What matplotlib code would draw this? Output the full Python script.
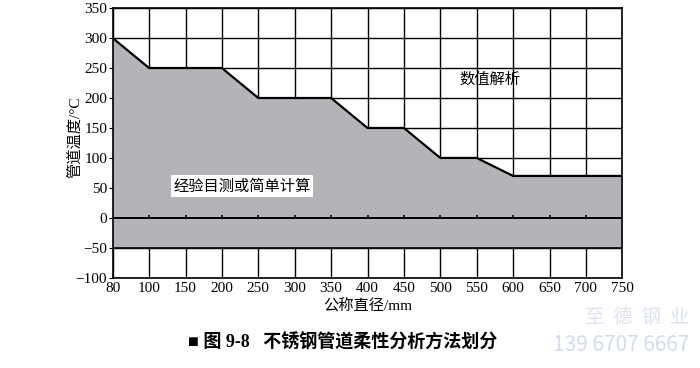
import numpy as np
import matplotlib.pyplot as plt

plt.rcParams['font.family'] = ['Liberation Serif', 'Noto Sans CJK SC']

# nominal diameter (categorical, equally spaced) and the boundary temperature
dn_labels = ['80', '100', '150', '200', '250', '300', '350', '400',
             '450', '500', '550', '600', '650', '700', '750']
t_limit = [300, 250, 250, 250, 200, 200, 200, 150,
           150, 100, 100, 70, 70, 70, 70]
t_low = -50
y_ticks = [-100, -50, 0, 50, 100, 150, 200, 250, 300, 350]

x = np.arange(len(dn_labels))

fig = plt.figure(figsize=(7, 3.68), dpi=100)
ax = fig.add_axes([0.161, 0.245, 0.728, 0.733])

# grid first, fill covers it
for xi in x:
    ax.axvline(xi, color='black', lw=1.0, zorder=1)
for yt in y_ticks:
    ax.axhline(yt, color='black', lw=1.0, zorder=1)

ax.fill_between(x, t_low, t_limit, color='#b2b4b7', zorder=2, lw=0)
ax.plot(x, t_limit, color='black', lw=1.6, zorder=3)
ax.axhline(t_low, color='black', lw=1.2, zorder=3)
ax.axhline(0, color='black', lw=1.4, zorder=3)
# little ticks standing on the zero line
ax.vlines(x[1:-1], 0, 5, color='black', lw=1.2, zorder=3)

ax.set_xlim(0, len(dn_labels) - 1)
ax.set_ylim(-100, 350)
ax.set_xticks(x)
ax.set_xticklabels(dn_labels)
ax.set_yticks(y_ticks)
ax.set_yticklabels([str(v).replace('-', '\u2212') for v in y_ticks])
ax.tick_params(axis='x', length=0, pad=3, labelsize=11)
ax.tick_params(axis='y', length=3, pad=1, labelsize=11, direction='out')
for s in ax.spines.values():
    s.set_linewidth(1.2)
    s.set_zorder(4)

ax.set_xlabel('公称直径/mm', fontsize=11, labelpad=2)
ax.set_ylabel('管道温度/°C', fontsize=11, labelpad=0)
ax.yaxis.set_label_coords(-0.06, 0.52)

ax.text(10.35, 232, '数值解析', fontsize=11, ha='center', va='center',
        family='Noto Sans CJK SC', zorder=5)
ax.text(3.55, 53, '经验目测或简单计算', fontsize=11, ha='center', va='center',
        family='Noto Sans CJK SC', zorder=5,
        bbox=dict(facecolor='white', edgecolor='none', pad=1.5))

fig.text(0.49, 0.068, '■ 图 9-8   不锈钢管道柔性分析方法划分', fontsize=13,
         ha='center', va='center', fontweight='bold')
fig.text(0.985, 0.138, '至  德  钢  业', fontsize=14, ha='right', va='center',
         color='#dde3ee', family='Noto Sans CJK SC')
fig.text(0.985, 0.062, '139 6707 6667', fontsize=15, ha='right', va='center',
         color='#d4dcec', family='Noto Sans CJK SC')

fig.savefig('out.png', dpi=100)
